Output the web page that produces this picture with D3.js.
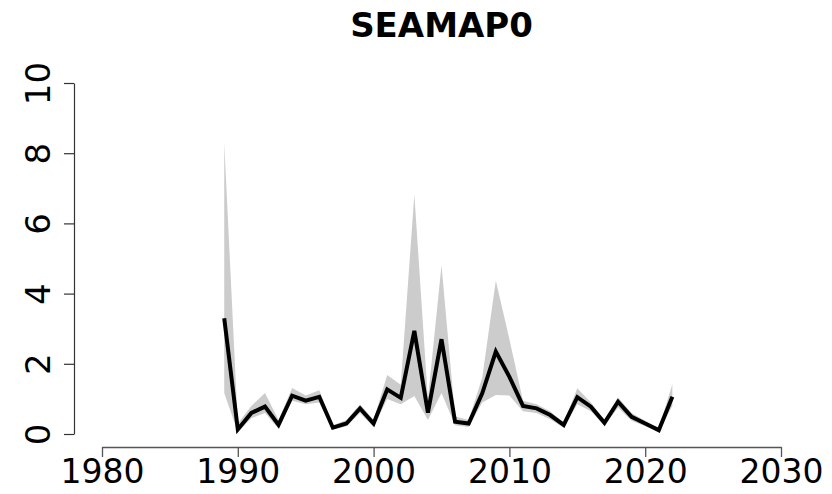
<!DOCTYPE html>
<html>
<head>
<meta charset="utf-8">
<script src="https://cdn.jsdelivr.net/npm/d3@7"></script>
<style>
  body { margin: 0; background: #fff; }
  svg { display: block; font-family: "DejaVu Sans", sans-serif; }
</style>
</head>
<body>
<svg id="chart"></svg>
<script>
// Survey index, years 1989-2022
var years = [1989, 1990, 1991, 1992, 1993, 1994, 1995, 1996, 1997, 1998, 1999, 2000,
    2001, 2002, 2003, 2004, 2005, 2006, 2007, 2008, 2009, 2010, 2011, 2012,
    2013, 2014, 2015, 2016, 2017, 2018, 2019, 2020, 2021, 2022];
var index = [3.30, 0.13, 0.60, 0.78, 0.26, 1.09, 0.95, 1.06, 0.18, 0.30, 0.73, 0.30,
    1.27, 1.03, 2.94, 0.61, 2.70, 0.35, 0.30, 1.16, 2.35, 1.63, 0.80, 0.73,
    0.54, 0.26, 1.05, 0.78, 0.32, 0.92, 0.49, 0.30, 0.11, 1.06];
var upper = [8.30, 0.30, 0.80, 1.17, 0.40, 1.31, 1.10, 1.25, 0.25, 0.40, 0.85, 0.40,
    1.68, 1.40, 6.82, 1.00, 4.81, 0.50, 0.40, 1.60, 4.37, 2.70, 0.95, 0.85,
    0.65, 0.32, 1.30, 0.90, 0.40, 1.05, 0.60, 0.38, 0.16, 1.42];
var lower = [1.17, 0.05, 0.45, 0.60, 0.15, 0.95, 0.85, 0.90, 0.12, 0.22, 0.60, 0.20,
    1.00, 0.85, 1.08, 0.40, 1.17, 0.25, 0.20, 0.90, 1.11, 1.10, 0.65, 0.60,
    0.42, 0.18, 0.85, 0.65, 0.25, 0.75, 0.38, 0.22, 0.07, 0.80];
var xTicks = [1980, 1990, 2000, 2010, 2020, 2030];
var yTicks = [0, 2, 4, 6, 8, 10];
var title = "SEAMAP0";

var width = 832, height = 494;

var svg = d3.select("#chart")
    .attr("width", width)
    .attr("height", height);

var x = d3.scaleLinear().domain([1980, 2030]).range([102, 781]);
var y = d3.scaleLinear().domain([0, 10]).range([434, 83]);

var rows = years.map(function(yr, i) {
    return { year: yr, value: index[i], hi: upper[i], lo: lower[i] };
});

// confidence band
var band = d3.area()
    .x(function(d) { return x(d.year); })
    .y0(function(d) { return y(d.lo); })
    .y1(function(d) { return y(d.hi); });

svg.append("path")
    .datum(rows)
    .attr("d", band)
    .style("fill", "#cccccc")
    .style("stroke", "none");

// index line
var line = d3.line()
    .x(function(d) { return x(d.year); })
    .y(function(d) { return y(d.value); });

svg.append("path")
    .datum(rows)
    .attr("d", line)
    .style("fill", "none")
    .style("stroke", "#000")
    .style("stroke-width", 4)
    .style("stroke-linejoin", "miter");

// x axis (R style: line spans first to last tick)
var xAxis = d3.axisBottom(x)
    .tickValues(xTicks)
    .tickFormat(d3.format("d"))
    .tickSize(10)
    .tickSizeOuter(0)
    .tickPadding(3);

var gx = svg.append("g")
    .attr("transform", "translate(0,447)")
    .call(xAxis);
gx.select(".domain").attr("stroke", "#555").attr("stroke-width", 1.3);
gx.selectAll(".tick line").attr("stroke", "#555").attr("stroke-width", 1.3);
gx.selectAll(".tick text")
    .attr("fill", "#000")
    .style("font-size", "33px")
    .style("font-family", "DejaVu Sans");

// y axis with rotated labels
var yAxis = d3.axisLeft(y)
    .tickValues(yTicks)
    .tickSize(10)
    .tickSizeOuter(0);

var gy = svg.append("g")
    .attr("transform", "translate(74,0)")
    .call(yAxis);
gy.select(".domain").attr("stroke", "#333").attr("stroke-width", 1.2);
gy.selectAll(".tick line").attr("stroke", "#333").attr("stroke-width", 1.2);
gy.selectAll(".tick text")
    .attr("x", 0)
    .attr("dy", null)
    .attr("text-anchor", "middle")
    .attr("transform", "translate(-24,0) rotate(-90)")
    .attr("fill", "#000")
    .style("font-size", "34px")
    .style("font-family", "DejaVu Sans");

// title
svg.append("text")
    .attr("x", (x.range()[0] + x.range()[1]) / 2)
    .attr("y", 37)
    .attr("text-anchor", "middle")
    .style("font-size", "34px")
    .style("font-weight", "bold")
    .text(title);
</script>
</body>
</html>
